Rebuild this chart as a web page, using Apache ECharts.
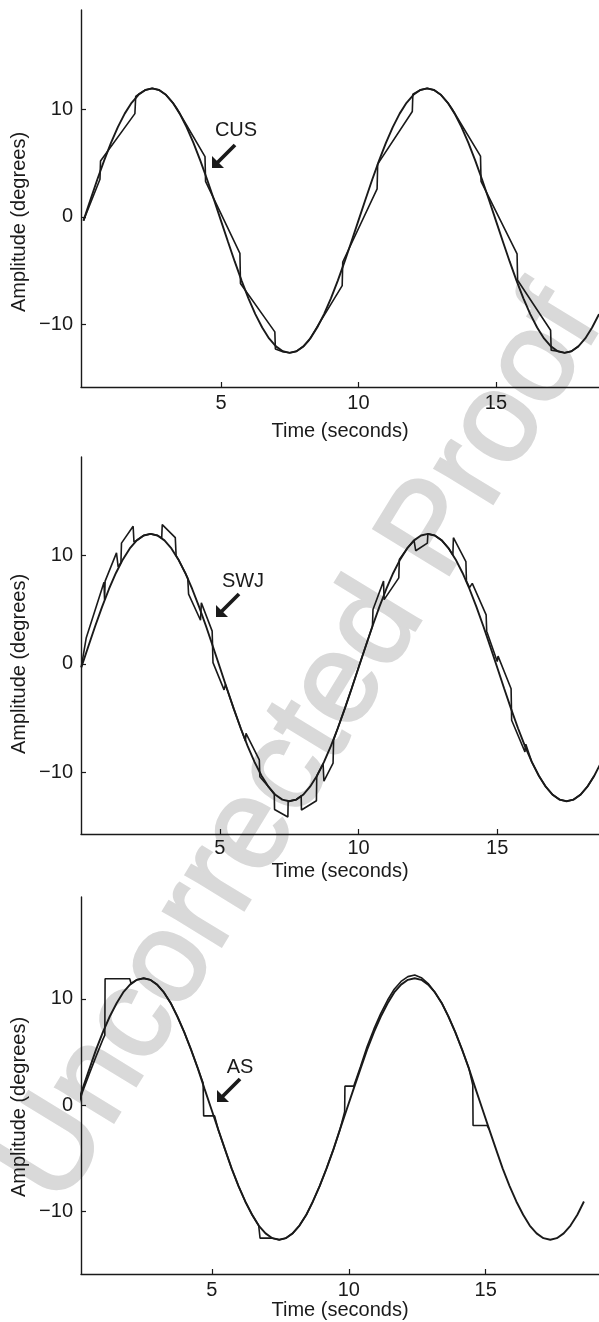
<!DOCTYPE html>
<html>
<head>
<meta charset="utf-8">
<script src="https://cdn.jsdelivr.net/npm/echarts@6.0.0/dist/echarts.min.js"></script>
<style>
  html, body { margin: 0; padding: 0; background: #fff; }
  #chart { width: 599px; height: 1322px; }
</style>
</head>
<body>
<div id="chart"></div>
<script>
// target sine (degrees), one value every quarter period step
const targetAmp = [
  -0.35, 1.57, 3.45, 5.23, 6.88, 8.35, 9.60, 10.61, 11.35, 11.80,
  11.95, 11.80, 11.35, 10.61, 9.60, 8.35, 6.88, 5.23, 3.45, 1.57,
  -0.35, -2.27, -4.15, -5.93, -7.58, -9.05, -10.30, -11.31, -12.05, -12.50,
  -12.65, -12.50, -12.05, -11.31, -10.30, -9.05, -7.58, -5.93, -4.15, -2.27,
  -0.35, 1.57, 3.45, 5.23, 6.88, 8.35, 9.60, 10.61, 11.35, 11.80,
  11.95, 11.80, 11.35, 10.61, 9.60, 8.35, 6.88, 5.23, 3.45, 1.57,
  -0.35, -2.27, -4.15, -5.93, -7.58, -9.05, -10.30, -11.31, -12.05, -12.50,
  -12.65, -12.50, -12.05, -11.31, -10.30, -9.05
];
// sample times (s) for the top two panels
const timeTop = [
  0, 0.25, 0.5, 0.75, 1, 1.25, 1.5, 1.75, 2, 2.25,
  2.5, 2.75, 3, 3.25, 3.5, 3.75, 4, 4.25, 4.5, 4.75,
  5, 5.25, 5.5, 5.75, 6, 6.25, 6.5, 6.75, 7, 7.25,
  7.5, 7.75, 8, 8.25, 8.5, 8.75, 9, 9.25, 9.5, 9.75,
  10, 10.25, 10.5, 10.75, 11, 11.25, 11.5, 11.75, 12, 12.25,
  12.5, 12.75, 13, 13.25, 13.5, 13.75, 14, 14.25, 14.5, 14.75,
  15, 15.25, 15.5, 15.75, 16, 16.25, 16.5, 16.75, 17, 17.25,
  17.5, 17.75, 18, 18.25, 18.5, 18.75
];
// sample times (s) for the bottom panel (its target runs a bit faster)
const timeBottom = [
  0.03, 0.28, 0.53, 0.77, 1.02, 1.27, 1.52, 1.76, 2.01, 2.26,
  2.51, 2.75, 3.00, 3.25, 3.50, 3.74, 3.99, 4.24, 4.49, 4.73,
  4.98, 5.23, 5.48, 5.72, 5.97, 6.22, 6.47, 6.71, 6.96, 7.21,
  7.46, 7.70, 7.95, 8.20, 8.45, 8.69, 8.94, 9.19, 9.44, 9.68,
  9.93, 10.18, 10.43, 10.67, 10.92, 11.17, 11.42, 11.66, 11.91, 12.16,
  12.41, 12.65, 12.90, 13.15, 13.40, 13.64, 13.89, 14.14, 14.39, 14.63,
  14.88, 15.13, 15.38, 15.62, 15.87, 16.12, 16.37, 16.61, 16.86, 17.11,
  17.36, 17.60, 17.85, 18.10, 18.35, 18.59
];

// eye traces [time, amplitude]
const eyeCUS = [
  [0, -0.35], [0.6, 3.5], [0.62, 5.2], [1.87, 9.6], [1.9, 11.2],
  [2.0, 11.4], [2.25, 11.8], [2.5, 11.95], [2.75, 11.8], [3.0, 11.35], [3.25, 10.61],
  [3.39, 10.1], [4.42, 5.6], [4.44, 3.3], [5.69, -3.4], [5.71, -6.2],
  [6.96, -10.7], [6.98, -12.3], [7.25, -12.55], [7.5, -12.65], [7.75, -12.5],
  [8.0, -12.05], [8.2, -11.5], [9.41, -6.4], [9.43, -4.2], [10.68, 2.6],
  [10.7, 4.9], [11.96, 9.8], [11.98, 11.4], [12.25, 11.8], [12.5, 11.95],
  [12.75, 11.8], [13.0, 11.35], [13.25, 10.61], [13.39, 10.1], [14.44, 5.65],
  [14.46, 3.3], [15.77, -3.45], [15.79, -5.9], [16.99, -10.55], [17.01, -12.4],
  [17.25, -12.5], [17.5, -12.65], [17.75, -12.5], [18.0, -12.05]
];
const eyeSWJ = [
  [0, -0.3], [0.18, 2.4], [0.82, 7.5], [0.84, 5.9],
  [0.86, 7.6], [1.27, 10.2], [1.33, 8.9], [1.43, 9.3],
  [1.45, 11.1], [1.87, 12.65], [1.9, 11.2],
  [2.0, 11.35], [2.25, 11.8], [2.5, 11.95], [2.75, 11.8], [2.9, 11.55],
  [2.92, 12.8], [3.39, 11.6], [3.42, 9.95],
  [3.5, 9.6], [3.75, 8.35], [3.84, 7.85],
  [3.87, 6.4], [4.3, 4.0], [4.33, 5.6], [4.72, 3.0], [4.75, 0.1], [5.15, -2.4], [5.2, -1.9],
  [5.25, -2.27], [5.5, -4.15], [5.75, -5.93], [5.92, -7.1],
  [5.94, -6.4], [6.42, -8.85], [6.44, -10.4],
  [6.5, -10.3], [6.75, -11.31], [6.96, -12.0],
  [6.97, -13.4], [7.45, -14.1], [7.46, -12.65],
  [7.75, -12.5], [7.93, -12.15],
  [7.94, -13.45], [8.48, -12.6], [8.49, -10.5],
  [8.5, -10.3], [8.72, -9.2],
  [8.75, -10.8], [9.08, -9.15], [9.1, -7.0],
  [9.25, -5.93], [9.5, -4.15], [9.75, -2.27], [10.0, -0.35], [10.25, 1.57], [10.5, 3.45],
  [10.52, 5.0], [10.9, 7.6], [10.92, 5.9], [11.45, 7.9], [11.47, 9.6],
  [11.75, 10.61], [12.0, 11.35], [12.05, 11.45],
  [12.06, 10.4], [12.48, 11.1], [12.5, 11.95],
  [12.75, 11.8], [13.0, 11.35], [13.25, 10.61], [13.4, 10.0],
  [13.42, 11.6], [13.87, 9.4], [13.89, 7.6], [14.0, 7.0], [14.1, 7.4], [14.6, 4.5], [14.62, 3.0],
  [15.0, 0.2], [15.03, 0.7], [15.5, -2.3], [15.52, -5.2], [16.0, -8.1], [16.03, -7.4],
  [16.25, -9.05], [16.5, -10.3], [16.75, -11.31], [17.0, -12.05], [17.25, -12.5],
  [17.5, -12.65], [17.75, -12.5], [18.0, -12.05], [18.25, -11.31], [18.5, -10.3]
];
const eyeAS = [
  [0.05, -0.55], [0.28, 1.3], [0.53, 3.0], [0.77, 4.6], [1.02, 6.2], [1.09, 6.6],
  [1.1, 11.9], [2.0, 11.9], [2.05, 11.45],
  [2.26, 11.8], [2.51, 11.95], [2.75, 11.8], [3.0, 11.35], [3.25, 10.61], [3.5, 9.6],
  [3.74, 8.35], [3.99, 6.88], [4.24, 5.23], [4.49, 3.45], [4.68, 2.1],
  [4.7, -1.0], [5.1, -1.0],
  [5.23, -2.27], [5.48, -4.15], [5.72, -5.93], [5.97, -7.58], [6.22, -9.05], [6.47, -10.3],
  [6.71, -11.31], [6.75, -11.4], [6.76, -12.5], [7.05, -12.5],
  [7.21, -12.5], [7.46, -12.65], [7.7, -12.5], [7.95, -12.05], [8.2, -11.31], [8.45, -10.3],
  [8.69, -9.05], [8.94, -7.58], [9.19, -5.93], [9.44, -4.15], [9.68, -2.27], [9.85, -0.6],
  [9.86, 1.8], [10.18, 1.8],
  [10.43, 3.65], [10.67, 5.53], [10.92, 7.18], [11.17, 8.65], [11.42, 9.9], [11.66, 10.91],
  [11.91, 11.65], [12.16, 12.1], [12.41, 12.25], [12.65, 12.0], [12.9, 11.45], [13.15, 10.61],
  [13.4, 9.6], [13.64, 8.35], [13.89, 6.88], [14.14, 5.23], [14.39, 3.45], [14.53, 1.9],
  [14.54, -1.9], [15.05, -1.9], [15.13, -2.27]
];

const xTicks = [5, 10, 15];
const yTicks = [-10, 0, 10];

const INK = '#1a1a1a';
const FONT = 'Liberation Sans';

// per-panel layout (pixels / axis extents)
const panels = [
  { top: 10,  xMin: -0.09, xMax: 18.75, yMin: -15.83, yMax: 19.24, nameGap: 34, labelGap: 6,
    target: timeTop, eye: eyeCUS, tag: 'CUS', yNameY: 222, tagXY: [236, 130], tip: [212, 168] },
  { top: 457, xMin: -0.01, xMax: 18.67, yMin: -15.66, yMax: 19.02, nameGap: 27, labelGap: 4,
    target: timeTop, eye: eyeSWJ, tag: 'SWJ', yNameY: 664, tagXY: [243, 581], tip: [216, 617] },
  { top: 897, xMin: 0.22, xMax: 19.14, yMin: -15.87, yMax: 19.59, nameGap: 23, labelGap: 6,
    target: timeBottom, eye: eyeAS, tag: 'AS', yNameY: 1107, tagXY: [240, 1067], tip: [217, 1102] }
];

const fmt = v => (v < 0 ? '\u2212' + Math.abs(v) : String(v));

const grid = [], xAxis = [], yAxis = [], series = [], graphic = [];

// grey proof watermark behind everything
graphic.push({
  type: 'text', x: 302, y: 747, rotation: 58.5 * Math.PI / 180, z: -10, silent: true,
  style: { text: 'Uncorrected Proof', fontSize: 128, fontFamily: FONT, fill: '#d9d9d9',
           stroke: '#d9d9d9', lineWidth: 3, align: 'center', verticalAlign: 'middle' }
});

panels.forEach((p, i) => {
  grid.push({ left: 81, right: 0, top: p.top, height: 377 });
  xAxis.push({
    type: 'value', gridIndex: i, min: p.xMin, max: p.xMax,
    name: 'Time (seconds)', nameLocation: 'middle', nameGap: p.nameGap,
    nameTextStyle: { fontFamily: FONT, fontSize: 20, color: INK },
    axisLine: { onZero: false, lineStyle: { color: INK, width: 1.4 } },
    axisTick: { inside: true, length: 5, customValues: xTicks, lineStyle: { color: INK, width: 1.2 } },
    axisLabel: { customValues: xTicks, margin: p.labelGap, fontFamily: FONT, fontSize: 20, color: INK },
    splitLine: { show: false }
  });
  yAxis.push({
    type: 'value', gridIndex: i, min: p.yMin, max: p.yMax,
    axisLine: { onZero: false, lineStyle: { color: INK, width: 1.4 } },
    axisTick: { inside: true, length: 5, customValues: yTicks, lineStyle: { color: INK, width: 1.2 } },
    axisLabel: { customValues: yTicks, margin: 8, formatter: fmt, fontFamily: FONT, fontSize: 20, color: INK },
    splitLine: { show: false }
  });
  series.push({
    type: 'line', xAxisIndex: i, yAxisIndex: i, showSymbol: false, clip: false,
    data: p.target.map((t, k) => [t, targetAmp[k]]),
    lineStyle: { color: INK, width: 1.9 }, z: 3
  });
  series.push({
    type: 'line', xAxisIndex: i, yAxisIndex: i, showSymbol: false, clip: false,
    data: p.eye,
    lineStyle: { color: INK, width: 1.6 }, z: 3
  });

  graphic.push({
    type: 'text', x: 19, y: p.yNameY, rotation: Math.PI / 2,
    style: { text: 'Amplitude (degrees)', fontSize: 20, fontFamily: FONT, fill: INK,
             align: 'center', verticalAlign: 'middle' }
  });
  graphic.push({
    type: 'text', x: p.tagXY[0], y: p.tagXY[1],
    style: { text: p.tag, fontSize: 20, fontFamily: FONT, fill: INK, align: 'center', verticalAlign: 'middle' }
  });
  // arrow pointing down-left at the event
  const [tx, ty] = p.tip;
  graphic.push({
    type: 'line', shape: { x1: tx + 23, y1: ty - 23, x2: tx + 5, y2: ty - 5 },
    style: { stroke: INK, lineWidth: 3.8 }
  });
  graphic.push({
    type: 'polygon', shape: { points: [[tx, ty], [tx, ty - 12], [tx + 12, ty]] },
    style: { fill: INK }
  });
});

const chart = echarts.init(document.getElementById('chart'), null, { renderer: 'canvas' });
chart.setOption({
  animation: false,
  backgroundColor: '#fff',
  grid, xAxis, yAxis, series, graphic
});
</script>
</body>
</html>
